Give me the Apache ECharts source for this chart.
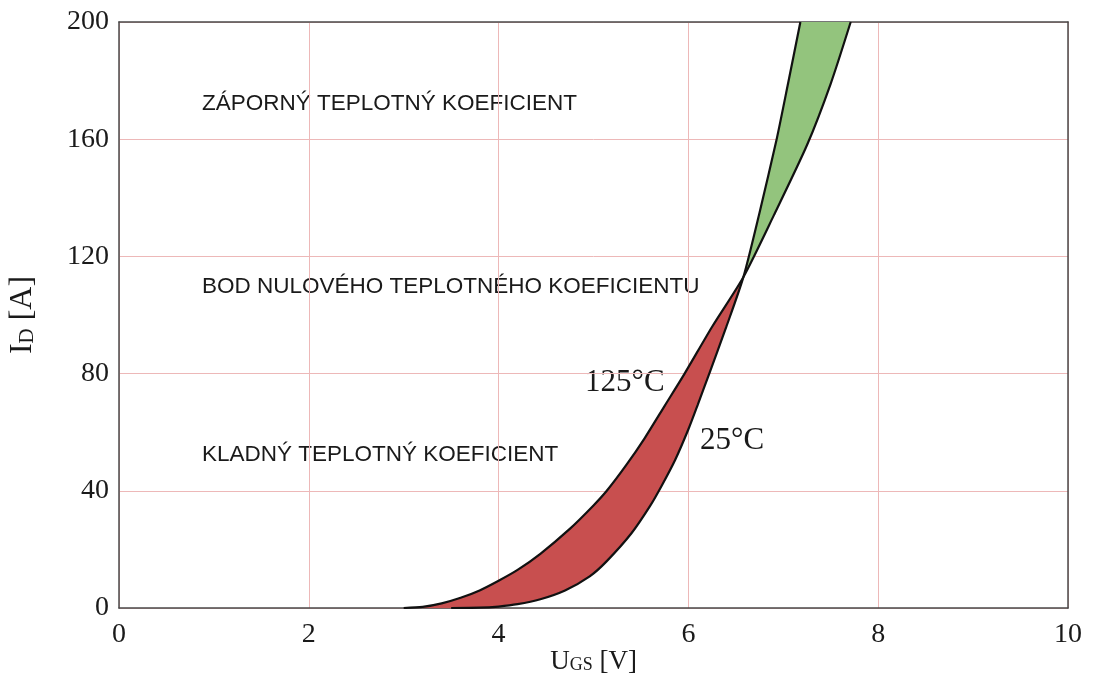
<!DOCTYPE html>
<html>
<head>
<meta charset="utf-8">
<script src="https://cdn.jsdelivr.net/npm/echarts@6/dist/echarts.min.js"></script>
<style>
html,body{margin:0;padding:0;background:#fff;}
#c{width:1093px;height:677px;}
</style>
</head>
<body>
<div id="c"></div>
<script>
// U_GS [V] values and I_D [A] values
const ugs25 = [3.5, 3.8, 4.0, 4.2, 4.44, 4.7, 4.96, 5.14, 5.4, 5.6, 5.72, 5.86, 6.0, 6.1, 6.22, 6.4, 6.58, 6.75, 6.93, 7.05, 7.18];
const id25  = [0,   0.1, 0.5, 1.3, 3,    6,   10.8, 16,   25.5, 35, 41.8, 50.5, 61,  69.5, 80,  96,  113,  135,  160,  179,  200];
const ugs125 = [3.0, 3.2, 3.4, 3.6, 3.8, 4.0, 4.2, 4.44, 4.75, 5.0, 5.14, 5.35, 5.54, 5.75, 5.96, 6.25, 6.58, 6.9, 7.25, 7.5, 7.71];
const id125  = [0,   0.4, 1.6, 3.5, 6,   9.3, 13,  18.5, 27,   35,  40,   49,   58,   69,  80,   96,   113,  134, 158,  179, 200];
const crossU = 6.58; // zero temperature coefficient point
const xTicks = [0, 2, 4, 6, 8, 10];
const yTicks = [0, 40, 80, 120, 160, 200];

const pts = (xs, ys) => xs.map((x, i) => [x, ys[i]]);
const c25 = pts(ugs25, id25);
const c125 = pts(ugs125, id125);
const below = c => c.filter(p => p[0] <= crossU);
const above = c => c.filter(p => p[0] >= crossU);
// red region: 125°C upper boundary then 25°C back
const redPoly = below(c125).concat(below(c25).slice().reverse());
// green region: 25°C (left) up then 125°C back down
const greenPoly = above(c25).concat(above(c125).slice().reverse());

const chart = echarts.init(document.getElementById('c'), null, {renderer: 'canvas'});
const serif = 'Liberation Serif';
const sans = 'Liberation Sans';
const frame = {show: true, onZero: false, lineStyle: {color: '#4a4a4a', width: 1.5}};
const xRich = {
  a: {fontFamily: serif, fontSize: 27, color: '#1a1a1a'},
  b: {fontFamily: serif, fontSize: 18, color: '#1a1a1a', verticalAlign: 'bottom', padding: [0, 0, 1, 0]}
};
const yRich = {
  a: {fontFamily: serif, fontSize: 32, color: '#1a1a1a'},
  b: {fontFamily: serif, fontSize: 21, color: '#1a1a1a', verticalAlign: 'bottom', padding: [0, 0, 1, 0]}
};
chart.setOption({
  animation: false,
  backgroundColor: '#fff',
  grid: {left: 119, right: 25, top: 22, bottom: 69, outerBoundsMode: 'none', containLabel: false, show: false},
  xAxis: [{
    type: 'value', min: xTicks[0], max: xTicks[xTicks.length - 1], interval: 2,
    axisLine: frame,
    axisTick: {show: false},
    axisLabel: {fontFamily: serif, fontSize: 28, color: '#1a1a1a', margin: 13},
    splitLine: {show: true, lineStyle: {color: '#edb8b8', width: 1}},
    name: '{a|U}{b|GS}{a| [V]}', nameLocation: 'middle', nameGap: 40, nameMoveOverlap: false,
    nameTextStyle: {rich: xRich}
  }, {
    type: 'value', position: 'top', min: xTicks[0], max: xTicks[xTicks.length - 1], interval: 2,
    axisLine: frame, axisTick: {show: false}, axisLabel: {show: false}, splitLine: {show: false}
  }],
  yAxis: [{
    type: 'value', min: yTicks[0], max: yTicks[yTicks.length - 1], interval: 40,
    axisLine: frame,
    axisTick: {show: false},
    axisLabel: {fontFamily: serif, fontSize: 28, color: '#1a1a1a', margin: 10},
    splitLine: {show: true, lineStyle: {color: '#edb8b8', width: 1}},
    name: '{a|I}{b|D}{a| [A]}', nameLocation: 'middle', nameGap: 80, nameMoveOverlap: false,
    nameTextStyle: {rich: yRich}
  }, {
    type: 'value', position: 'right', min: yTicks[0], max: yTicks[yTicks.length - 1], interval: 40,
    axisLine: frame, axisTick: {show: false}, axisLabel: {show: false}, splitLine: {show: false}
  }],
  series: [
    {
      type: 'custom', clip: true, z: 2,
      data: [[0], [1]],
      renderItem: function (params, api) {
        const poly = params.dataIndex === 0 ? redPoly : greenPoly;
        const color = params.dataIndex === 0 ? '#c84f4f' : '#93c47d';
        return {
          type: 'polygon',
          shape: {points: poly.map(p => api.coord(p))},
          style: {fill: color, stroke: null}
        };
      }
    },
    {name: '25°C', type: 'line', data: c25, showSymbol: false, symbol: 'none', smooth: 0.25, z: 3,
     lineStyle: {color: '#111', width: 2.2}},
    {name: '125°C', type: 'line', data: c125, showSymbol: false, symbol: 'none', smooth: 0.25, z: 3,
     lineStyle: {color: '#111', width: 2.2}}
  ],
  graphic: [
    {type: 'text', left: 202, top: 92, style: {text: 'ZÁPORNÝ TEPLOTNÝ KOEFICIENT', font: '22.5px "' + sans + '"', fill: '#1a1a1a'}},
    {type: 'text', left: 202, top: 275, style: {text: 'BOD NULOVÉHO TEPLOTNÉHO KOEFICIENTU', font: '22.5px "' + sans + '"', fill: '#1a1a1a'}},
    {type: 'text', left: 202, top: 443, style: {text: 'KLADNÝ TEPLOTNÝ KOEFICIENT', font: '22.5px "' + sans + '"', fill: '#1a1a1a'}},
    {type: 'text', left: 585, top: 367, style: {text: '125°C', font: '31px "' + serif + '"', fill: '#1a1a1a'}},
    {type: 'text', left: 700, top: 425, style: {text: '25°C', font: '31px "' + serif + '"', fill: '#1a1a1a'}}
  ]
});
</script>
</body>
</html>
